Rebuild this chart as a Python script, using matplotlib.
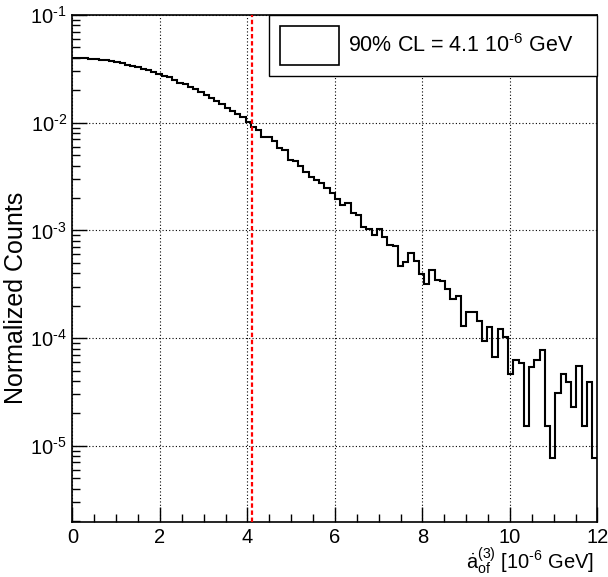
import matplotlib
matplotlib.use("Agg")
import matplotlib.pyplot as plt
import numpy as np
from matplotlib.patches import Patch
from matplotlib.ticker import LogLocator, MultipleLocator, NullFormatter, FuncFormatter

plt.rcParams['font.family'] = 'Liberation Sans'
plt.rcParams['mathtext.fontset'] = 'custom'
plt.rcParams['mathtext.rm'] = 'Liberation Sans'
plt.rcParams['mathtext.it'] = 'Liberation Sans:italic'
plt.rcParams['mathtext.bf'] = 'Liberation Sans:bold'
plt.rcParams['axes.unicode_minus'] = False

# histogram range and normalized bin contents (100 bins)
x_lo, x_hi = 0.0, 12.0
counts = [
    0.0396, 0.0396, 0.0399, 0.0393, 0.0388, 0.0382, 0.0379, 0.0374, 0.0369, 0.0356,
    0.0346, 0.0338, 0.0329, 0.0318, 0.0306, 0.0298, 0.0283, 0.0273, 0.0264, 0.0249,
    0.0235, 0.0227, 0.0216, 0.0204, 0.0194, 0.0182, 0.0170, 0.0158, 0.0148, 0.0138,
    0.0129, 0.0120, 0.0112, 0.0102, 0.0092, 0.0086, 0.00731, 0.00731, 0.0068, 0.00578,
    0.00558, 0.00455, 0.00437, 0.00399, 0.0035, 0.00311, 0.00294, 0.00277, 0.00249, 0.00224,
    0.00194, 0.00172, 0.00181, 0.00146, 0.00139, 0.00107, 0.00102, 0.000906, 0.00103, 0.000863,
    0.000731, 0.000716, 4.70e-4, 5.13e-4, 6.21e-4, 5.20e-4, 3.94e-4, 3.16e-4, 4.26e-4, 3.44e-4,
    3.39e-4, 2.84e-4, 2.31e-4, 2.46e-4, 1.30e-4, 1.75e-4, 1.75e-4, 1.44e-4, 9.33e-5, 1.26e-4,
    6.72e-5, 1.22e-4, 1.03e-4, 4.64e-5, 6.22e-5, 5.91e-5, 1.54e-5, 5.43e-5, 6.22e-5, 7.76e-5,
    1.54e-5, 7.76e-6, 3.11e-5, 4.68e-5, 3.88e-5, 2.31e-5, 5.47e-5, 1.54e-5, 3.88e-5, 7.76e-6,
]
cl90 = 4.1
y_lo, y_hi = 1.96e-6, 0.1

edges = np.linspace(x_lo, x_hi, len(counts) + 1)
HY = '\u2010'  # short hyphen, like ROOT's exponent sign


def decade_label(v, pos):
    e = int(round(np.log10(v)))
    if e < 0:
        return r'$10^{' + HY + str(-e) + '}$'
    return r'$10^{' + str(e) + '}$'


fig = plt.figure(figsize=(6.08, 5.77), dpi=100)
ax = fig.add_axes([0.1192, 0.0953, 0.8635, 0.8787])

ax.stairs(counts, edges, baseline=None, color='black', lw=1.5, zorder=2)
ax.axvline(cl90, color='red', lw=1.6, ls=(0, (2, 1.2)), zorder=3)

ax.set_yscale('log')
ax.set_xlim(x_lo, x_hi)
ax.set_ylim(y_lo, y_hi)

ax.xaxis.set_major_locator(MultipleLocator(2))
ax.xaxis.set_minor_locator(MultipleLocator(0.5))
ax.yaxis.set_major_locator(LogLocator(base=10, numticks=10))
ax.yaxis.set_major_formatter(FuncFormatter(decade_label))
ax.yaxis.set_minor_locator(LogLocator(base=10, subs=np.arange(2, 10), numticks=20))
ax.yaxis.set_minor_formatter(NullFormatter())

ax.tick_params(which='both', direction='in', top=False, right=False, width=1.0, labelsize=14.5)
ax.tick_params(which='major', length=11)
ax.tick_params(which='minor', length=5.5)
ax.tick_params(axis='y', pad=4)
ax.tick_params(axis='x', pad=4)

for s in ax.spines.values():
    s.set_linewidth(1.2)

ax.grid(True, which='major', color='black', lw=0.8, ls=(0, (1, 2)))

handle = Patch(facecolor='white', edgecolor='black', lw=1.2)
leg = ax.legend([handle], [r'90% CL = 4.1 10$^{' + HY + '6}$ GeV'],
                bbox_to_anchor=(0.374, 0.0, 0.626, 1.0), loc='upper left',
                mode='expand', borderaxespad=0, fancybox=False, framealpha=1,
                edgecolor='black', fontsize=15.5, handlelength=2.75, handleheight=2.45,
                borderpad=0.5, handletextpad=0.45)
leg.get_frame().set_linewidth(1.0)

fig.text(16 / 608, 1 - 298 / 577, 'Normalized Counts', rotation=90,
         ha='center', va='center', fontsize=18)
fig.text(594 / 608, 1 - 569 / 577,
         r'$\dot{\mathrm{a}}_{\mathrm{of}}^{(3)}$ [10$^{' + HY + '6}$ GeV]',
         ha='right', va='baseline', fontsize=14.5)

fig.savefig('out.png', dpi=100)
